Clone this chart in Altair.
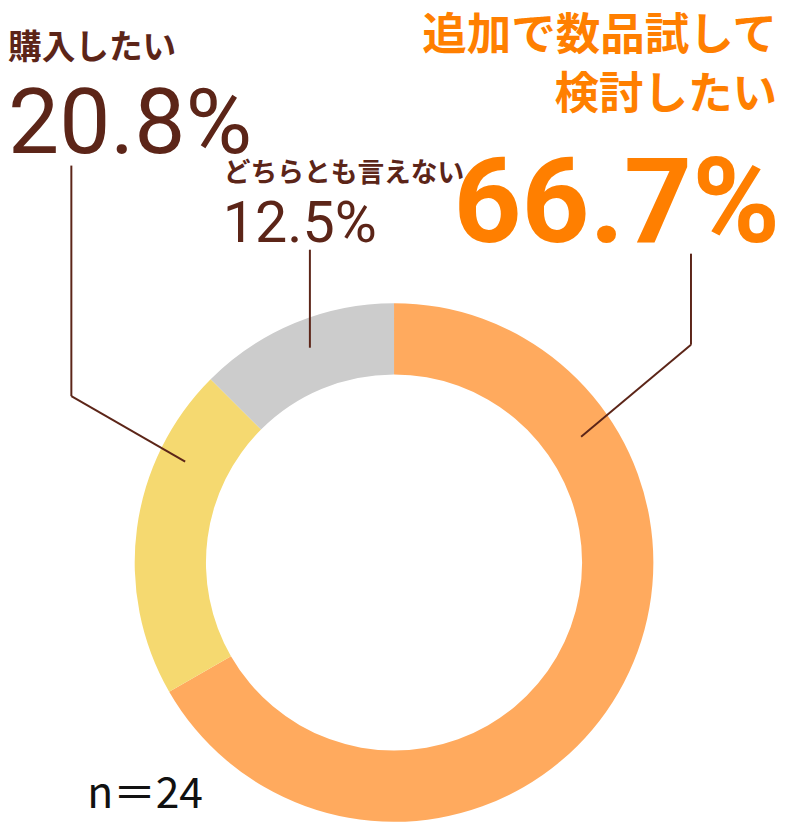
import altair as alt
import pandas as pd

# ---- data ----
categories = ["追加で数品試して検討したい", "購入したい", "どちらとも言えない"]
values = [66.7, 20.8, 12.5]
colors = ["#FFAA5E", "#F5D970", "#CCCCCC"]
order = [1, 2, 3]
pct_labels = ["66.7%", "20.8%", "12.5%"]
sample_note = "n＝24"

df = pd.DataFrame({"cat": categories, "value": values, "order": order})

BROWN = "#5C2518"
ORANGE_TXT = "#FF7F00"
JP = "Noto Sans CJK JP"
NUM = "Roboto"

CX, CY = 390, 556

arc = alt.Chart(df).mark_arc(outerRadius=262, innerRadius=190, stroke=None).encode(
    theta=alt.Theta("value:Q", stack=True),
    color=alt.Color("cat:N", scale=alt.Scale(domain=categories, range=colors), legend=None),
    order=alt.Order("order:Q"),
    x=alt.value(CX),
    y=alt.value(CY),
)

base = alt.Chart(pd.DataFrame({"a": [0]}))


def seg(x1, y1, x2, y2):
    return base.mark_rule(color=BROWN, strokeWidth=2).encode(
        x=alt.value(x1), y=alt.value(y1), x2=alt.value(x2), y2=alt.value(y2)
    )


def txt(t, x, y, size, color, font, weight="bold", align="left"):
    return base.mark_text(
        text=t, fontSize=size, color=color, font=font, fontWeight=weight,
        align=align, baseline="alphabetic",
    ).encode(x=alt.value(x), y=alt.value(y))


lines = [
    seg(64, 155, 64, 388), seg(64, 388, 179, 454),
    seg(305, 240, 305, 339),
    seg(690, 244, 690, 336), seg(690, 336, 579, 429),
]

texts = [
    txt("購入したい", 0, 47, 34, BROWN, JP),
    txt(pct_labels[1], 0, 142, 92, BROWN, NUM, weight="normal"),
    txt(categories[2], 218, 172, 27, BROWN, JP),
    txt(pct_labels[2], 217, 232, 58, BROWN, NUM, weight="normal"),
    txt("追加で数品試して", 777, 38, 45, ORANGE_TXT, JP, align="right"),
    txt("検討したい", 777, 98, 45, ORANGE_TXT, JP, align="right"),
    txt(pct_labels[0], 780, 232, 120, ORANGE_TXT, NUM, align="right"),
    txt(sample_note, 80, 804, 43, "#111111", JP, weight="normal"),
]

chart = alt.layer(arc, *lines, *texts).properties(
    width=786, height=818,
    autosize=alt.AutoSizeParams(type="none"),
    padding=0,
).configure_view(stroke=None)

chart.save("out.html", embed_options={"renderer": "svg", "actions": False})
